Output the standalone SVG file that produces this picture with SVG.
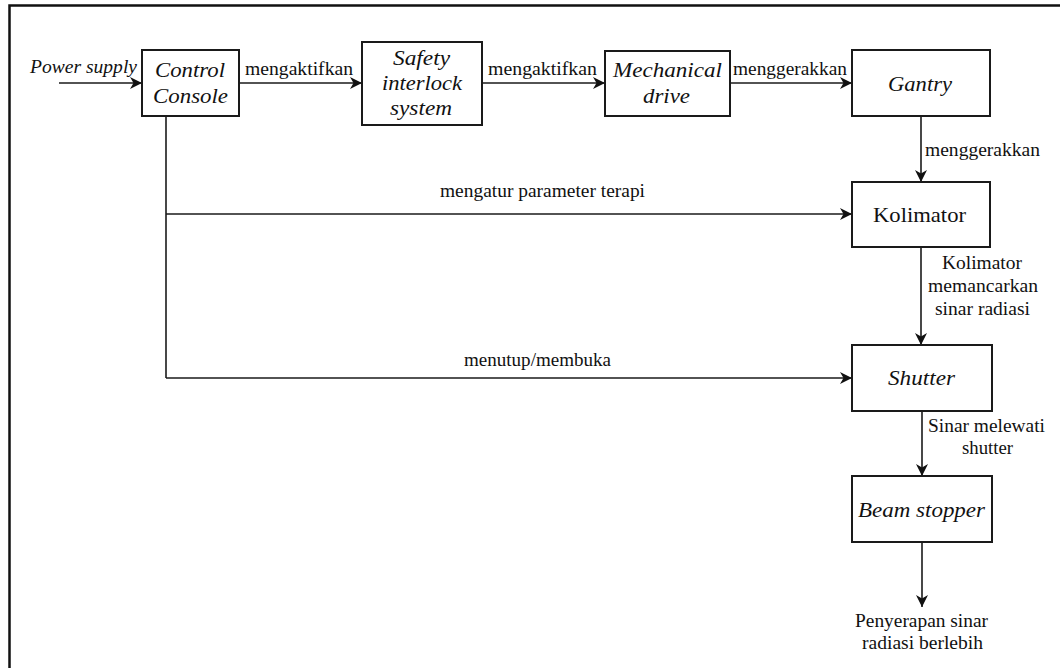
<svg xmlns="http://www.w3.org/2000/svg" width="1060" height="668" viewBox="0 0 1060 668">
<style>
.box{fill:#fff;stroke:#1a1a1a;stroke-width:2}
.ln{fill:none;stroke:#1a1a1a;stroke-width:1.6}
text{font-family:'Liberation Serif','Times New Roman',Tinos,'Noto Serif','DejaVu Serif',serif;fill:#111}
.nt{font-size:22px;text-anchor:middle}
.it{font-style:italic}
.el{font-size:19px}
</style>
<defs>
<marker id="ah" markerUnits="userSpaceOnUse" markerWidth="13" markerHeight="12" refX="12" refY="6" orient="auto">
<path d="M0,0 L12,6 L0,12 L3.5,6 Z" fill="#111"/>
</marker>
</defs>
<rect width="1060" height="668" fill="#fff"/>
<path d="M9.5,668 V5.5 H1060" fill="none" stroke="#111" stroke-width="2.5"/>

<g id="connectors">
<line class="ln" x1="59" y1="83" x2="142" y2="83" marker-end="url(#ah)"/>
<line class="ln" x1="239" y1="83" x2="362" y2="83" marker-end="url(#ah)"/>
<line class="ln" x1="482" y1="83" x2="605" y2="83" marker-end="url(#ah)"/>
<line class="ln" x1="730" y1="83" x2="852" y2="83" marker-end="url(#ah)"/>
<line class="ln" x1="921" y1="116" x2="921" y2="182" marker-end="url(#ah)"/>
<line class="ln" x1="921" y1="247" x2="921" y2="345" marker-end="url(#ah)"/>
<line class="ln" x1="922" y1="411" x2="922" y2="476" marker-end="url(#ah)"/>
<line class="ln" x1="922" y1="542" x2="922" y2="607" marker-end="url(#ah)"/>
<path class="ln" d="M166,116 V378"/>
<line class="ln" x1="166" y1="214" x2="852" y2="214" marker-end="url(#ah)"/>
<line class="ln" x1="166" y1="378" x2="852" y2="378" marker-end="url(#ah)"/>
<text class="el it" x="30" y="73" textLength="107" lengthAdjust="spacingAndGlyphs">Power supply</text>
<text class="el" x="245" y="75" textLength="108" lengthAdjust="spacingAndGlyphs">mengaktifkan</text>
<text class="el" x="488" y="75" textLength="109" lengthAdjust="spacingAndGlyphs">mengaktifkan</text>
<text class="el" x="733" y="75" textLength="114" lengthAdjust="spacingAndGlyphs">menggerakkan</text>
<text class="el" x="925" y="156" textLength="115" lengthAdjust="spacingAndGlyphs">menggerakkan</text>
<text class="el" x="440" y="197" textLength="205" lengthAdjust="spacingAndGlyphs">mengatur parameter terapi</text>
<text class="el" x="464" y="366" textLength="147" lengthAdjust="spacingAndGlyphs">menutup/membuka</text>
<text class="el" x="942" y="269" textLength="80" lengthAdjust="spacingAndGlyphs">Kolimator</text>
<text class="el" x="928" y="292" textLength="110" lengthAdjust="spacingAndGlyphs">memancarkan</text>
<text class="el" x="935" y="315" textLength="95" lengthAdjust="spacingAndGlyphs">sinar radiasi</text>
<text class="el" x="928" y="432" textLength="117" lengthAdjust="spacingAndGlyphs">Sinar melewati</text>
<text class="el" x="962" y="454" textLength="51" lengthAdjust="spacingAndGlyphs">shutter</text>
<text class="el" x="855" y="627" textLength="133" lengthAdjust="spacingAndGlyphs">Penyerapan sinar</text>
<text class="el" x="862" y="649" textLength="121" lengthAdjust="spacingAndGlyphs">radiasi berlebih</text>
</g>

<g id="control-console">
<rect class="box" x="142" y="50" width="97" height="66"/>
<text class="nt it" x="190" y="77" textLength="70" lengthAdjust="spacingAndGlyphs">Control</text>
<text class="nt it" x="190.5" y="103" textLength="75" lengthAdjust="spacingAndGlyphs">Console</text>
</g>
<g id="safety-interlock">
<rect class="box" x="362" y="42" width="120" height="83"/>
<text class="nt it" x="421.5" y="65" textLength="57" lengthAdjust="spacingAndGlyphs">Safety</text>
<text class="nt it" x="422" y="90" textLength="80" lengthAdjust="spacingAndGlyphs">interlock</text>
<text class="nt it" x="421" y="115" textLength="62" lengthAdjust="spacingAndGlyphs">system</text>
</g>
<g id="mechanical-drive">
<rect class="box" x="605" y="51" width="125" height="65"/>
<text class="nt it" x="667.5" y="77" textLength="109" lengthAdjust="spacingAndGlyphs">Mechanical</text>
<text class="nt it" x="666.5" y="103" textLength="47" lengthAdjust="spacingAndGlyphs">drive</text>
</g>
<g id="gantry">
<rect class="box" x="852" y="50" width="138" height="66"/>
<text class="nt it" x="920" y="91" textLength="64" lengthAdjust="spacingAndGlyphs">Gantry</text>
</g>
<g id="kolimator">
<rect class="box" x="852" y="182" width="138" height="65"/>
<text class="nt" x="919.5" y="222" textLength="93" lengthAdjust="spacingAndGlyphs">Kolimator</text>
</g>
<g id="shutter">
<rect class="box" x="852" y="345" width="140" height="66" stroke-width="2.5"/>
<text class="nt it" x="921.5" y="385" textLength="67" lengthAdjust="spacingAndGlyphs">Shutter</text>
</g>
<g id="beam-stopper">
<rect class="box" x="852" y="476" width="140" height="66" stroke-width="2.5"/>
<text class="nt it" x="921.5" y="517" textLength="127" lengthAdjust="spacingAndGlyphs">Beam stopper</text>
</g>
</svg>
